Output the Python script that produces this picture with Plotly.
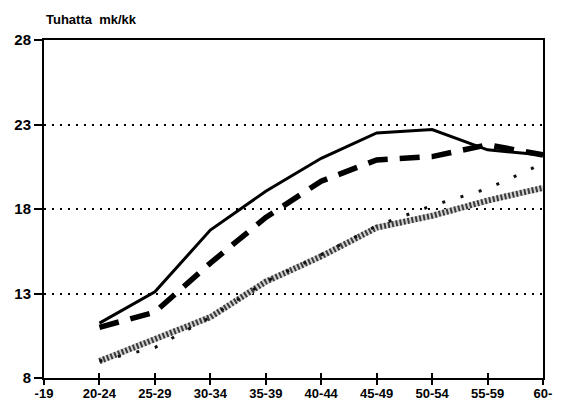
import plotly.graph_objects as go

categories = ["-19", "20-24", "25-29", "30-34", "35-39", "40-44", "45-49", "50-54", "55-59", "60-"]
age_groups = ["20-24", "25-29", "30-34", "35-39", "40-44", "45-49", "50-54", "55-59", "60-"]

series_solid = [11.25, 13.1, 16.75, 19.05, 21.0, 22.5, 22.7, 21.5, 21.2]
series_dashed = [11.0, 11.9, 14.8, 17.5, 19.65, 20.9, 21.1, 21.8, 21.2]
series_checkered = [9.0, 10.3, 11.6, 13.7, 15.2, 16.9, 17.6, 18.5, 19.25]
series_sparse = [9.0, 9.8, 11.6, 13.7, 15.3, 17.0, 18.2, 19.2, 20.7]

y_ticks = [8, 13, 18, 23, 28]

xs = [categories.index(c) for c in age_groups]

FONT = "Liberation Sans, Arial, sans-serif"

fig = go.Figure()

fig.add_trace(go.Scatter(x=xs, y=series_checkered, mode="lines",
                         line=dict(color="#d0d0d0", width=6), showlegend=False, hoverinfo="skip"))
fig.add_trace(go.Scatter(x=xs, y=series_checkered, mode="lines",
                         line=dict(color="#3a3a3a", width=6, dash="2px,2px"), showlegend=False))
fig.add_trace(go.Scatter(x=xs, y=series_sparse, mode="lines",
                         line=dict(color="#111111", width=3, dash="3px,16px"), showlegend=False))
fig.add_trace(go.Scatter(x=xs, y=series_dashed, mode="lines",
                         line=dict(color="black", width=5.5, dash="20px,12px"), showlegend=False))
fig.add_trace(go.Scatter(x=xs, y=series_solid, mode="lines",
                         line=dict(color="black", width=3), showlegend=False))

# page body adds an 8px offset; margins compensate so the plot lands where the reference has it
fig.update_layout(
    width=562, height=401,
    margin=dict(l=36, r=27, t=32, b=31, autoexpand=False),
    paper_bgcolor="white", plot_bgcolor="white",
    font=dict(family=FONT, color="black", size=12),
    xaxis=dict(
        range=[0, len(categories) - 1], automargin=False,
        tickvals=list(range(len(categories))), ticktext=categories,
        showgrid=False, zeroline=False,
        showline=True, linecolor="black", linewidth=2, mirror=True,
        ticks="outside", ticklen=5, tickwidth=1.5, tickcolor="black",
        ticklabelstandoff=-3,
        tickfont=dict(size=13, family=FONT, weight="bold"),
    ),
    xaxis2=dict(
        overlaying="x", anchor="y", side="bottom", automargin=False,
        range=[0, len(categories) - 1],
        tickvals=list(range(len(categories))),
        showticklabels=False, showgrid=False, zeroline=False, showline=False,
        ticks="inside", ticklen=5, tickwidth=1.5, tickcolor="black",
    ),
    yaxis=dict(
        range=[8, 28], tickvals=y_ticks, automargin=False,
        showgrid=True, gridcolor="black", gridwidth=1.5, griddash="2px,6px",
        zeroline=False,
        showline=True, linecolor="black", linewidth=2, mirror=True,
        ticks="outside", ticklen=8, tickwidth=2, tickcolor="black",
        tickfont=dict(size=15, family=FONT, weight="bold"),
    ),
    annotations=[dict(
        text="Tuhatta  mk/kk", xref="paper", yref="paper", x=0, y=1,
        xanchor="left", yanchor="bottom", yshift=11, showarrow=False,
        font=dict(size=13, family=FONT, weight="bold"),
    )],
)

# invisible trace so the overlaid tick axis renders
fig.add_trace(go.Scatter(x=[0], y=[8], xaxis="x2", mode="markers",
                         marker=dict(opacity=0), showlegend=False, hoverinfo="skip"))

fig.write_html("out.html")
